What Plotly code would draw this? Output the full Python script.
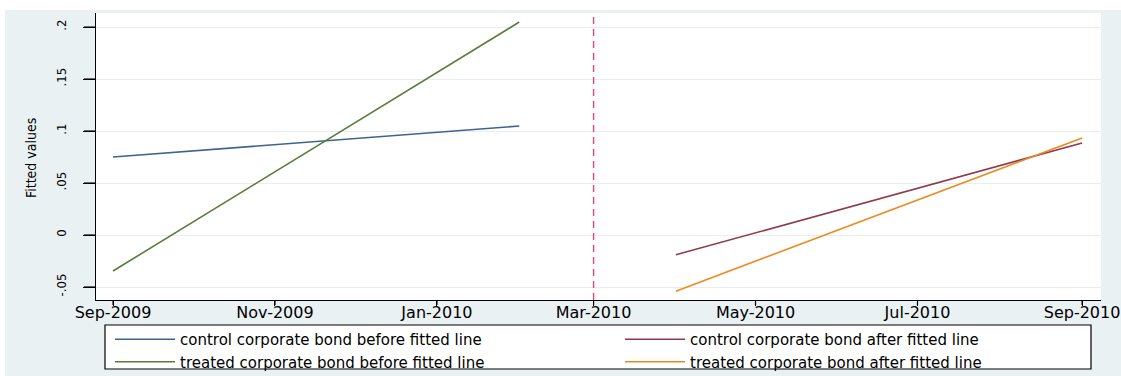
import plotly.graph_objects as go

# ---- data ----
before_dates = ["2009-09-01", "2010-02-01"]
after_dates = ["2010-04-01", "2010-09-01"]
control_before = [0.075, 0.1048]
treated_before = [-0.0346, 0.2048]
control_after = [-0.019, 0.0885]
treated_after = [-0.054, 0.0933]
event_date = "2010-03-01"

x_tickvals = ["2009-09-01", "2009-11-01", "2010-01-01", "2010-03-01",
              "2010-05-01", "2010-07-01", "2010-09-01"]
x_ticktext = ["Sep-2009", "Nov-2009", "Jan-2010", "Mar-2010",
              "May-2010", "Jul-2010", "Sep-2010"]
y_tickvals = [-0.05, 0, 0.05, 0.1, 0.15, 0.2]
y_ticktext = ["-.05", "0", ".05", ".1", ".15", ".2"]
y_title = "Fitted values"

names = ["control corporate bond before fitted line",
         "treated corporate bond before fitted line",
         "control corporate bond after fitted line",
         "treated corporate bond after fitted line"]
colors = ["#3f6489", "#5a7c38", "#8f3b4c", "#ec8a1f"]

W, H = 1121, 376
L, R, T, B = 96, 20, 13, 76
pw, ph = W - L - R, H - T - B

def px_x(px):
    return (px - L) / pw

def px_y(py):
    return (H - B - py) / ph

fig = go.Figure()
series = [(before_dates, control_before, "legend"),
          (before_dates, treated_before, "legend"),
          (after_dates, control_after, "legend2"),
          (after_dates, treated_after, "legend2")]
for (xs, ys, lg), nm, c in zip(series, names, colors):
    fig.add_trace(go.Scatter(x=xs, y=ys, mode="lines", name=nm,
                             line=dict(color=c, width=1.6), legend=lg))

# vertical event line
fig.add_shape(type="line", xref="x", yref="paper", x0=event_date, x1=event_date,
              y0=0, y1=1, line=dict(color="#e8457a", width=1.4, dash="7px,5px"),
              layer="above")

# tick marks (anchored to the axes' own scales)
for yv in y_tickvals:
    fig.add_shape(type="line", xref="paper", yref="y", x0=px_x(84), x1=0,
                  y0=yv, y1=yv, line=dict(color="black", width=1.2), layer="above")
for xv in x_tickvals:
    fig.add_shape(type="line", xref="x", yref="paper", x0=xv, x1=xv,
                  y0=0, y1=px_y(305), line=dict(color="black", width=1.2), layer="above")

# thin white border strips of the outer frame
fig.add_shape(type="rect", xref="paper", yref="paper", x0=px_x(-5), x1=px_x(1130),
              y0=px_y(10), y1=px_y(-5), fillcolor="white", line_width=0, layer="below")
fig.add_shape(type="rect", xref="paper", yref="paper", x0=px_x(-5), x1=px_x(5),
              y0=px_y(385), y1=px_y(-5), fillcolor="white", line_width=0, layer="below")
# legend box
fig.add_shape(type="rect", xref="paper", yref="paper", x0=px_x(105), x1=px_x(1091),
              y0=px_y(369), y1=px_y(325), fillcolor="white",
              line=dict(color="black", width=1.2), layer="below")

narrow = "Liberation Sans Narrow, DejaVu Sans Condensed, Liberation Sans"
fig.add_annotation(text=y_title, xref="paper", yref="paper",
                   x=px_x(31), y=px_y(158), textangle=-90, showarrow=False,
                   xanchor="center", yanchor="middle",
                   font=dict(family=narrow, size=14, color="black"))

legend_font = dict(family="DejaVu Sans", size=15, color="black")
fig.update_layout(
    width=W, height=H,
    margin=dict(l=L, r=R, t=T, b=B, autoexpand=False),
    paper_bgcolor="#eaf1f3", plot_bgcolor="white",
    showlegend=True,
    legend=dict(x=110 / W, y=1 - 323 / H, xref="container", yref="container",
                xanchor="left", yanchor="top", bgcolor="rgba(0,0,0,0)",
                borderwidth=0, font=legend_font, itemwidth=60,
                tracegroupgap=0),
    legend2=dict(x=620 / W, y=1 - 323 / H, xref="container", yref="container",
                 xanchor="left", yanchor="top", bgcolor="rgba(0,0,0,0)",
                 borderwidth=0, font=legend_font, itemwidth=60,
                 tracegroupgap=0),
    xaxis=dict(type="date", range=["2009-08-25 14:00", "2010-09-08 03:00"],
               tickvals=x_tickvals, ticktext=x_ticktext, tickangle=0,
               ticks="outside", ticklen=5, tickcolor="black", tickwidth=1.2,
               ticklabelstandoff=-7,
               showline=True, linecolor="black", linewidth=1.2,
               showgrid=False, zeroline=False, automargin=False,
               tickfont=dict(family="DejaVu Sans", size=16, color="black")),
    yaxis=dict(range=[-0.0625, 0.2135], tickvals=y_tickvals, ticktext=y_ticktext,
               ticks="outside", ticklen=12, tickcolor="black", tickwidth=1.2,
               tickangle=-90, automargin=False, ticklabelstandoff=12,
               showline=True, linecolor="black", linewidth=1.2,
               showgrid=True, gridcolor="#e6eef0", gridwidth=1.2, zeroline=False,
               tickfont=dict(family=narrow, size=13, color="black")),
)

fig.write_html("out.html")
